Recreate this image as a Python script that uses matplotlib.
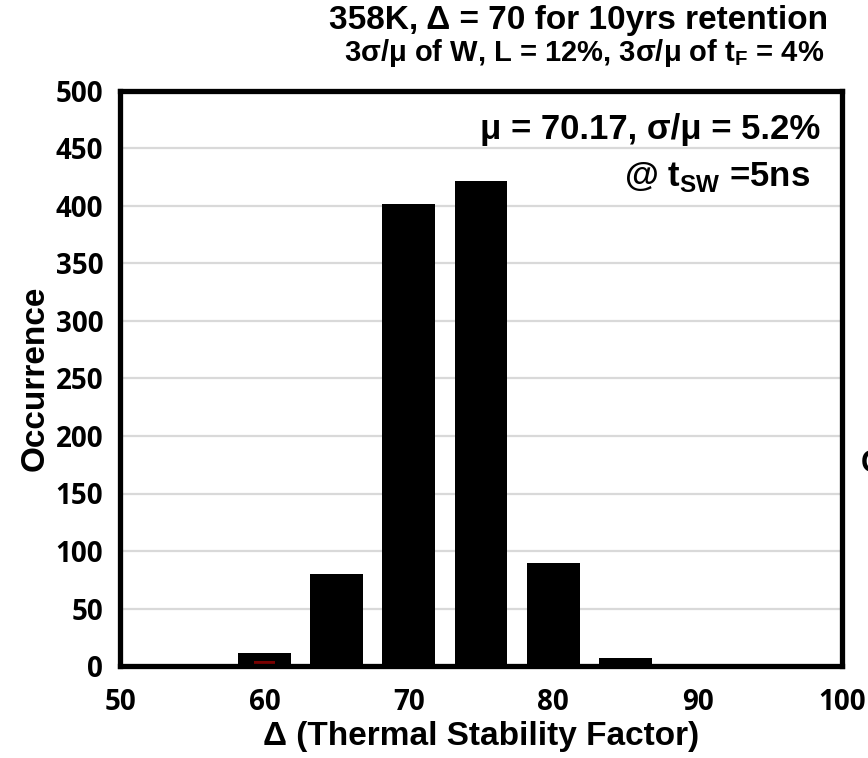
"""
Histograma del factor de estabilidad térmica (Delta) a 358K.
"""
import matplotlib
matplotlib.use("Agg")
import matplotlib.pyplot as plt

# datos
delta_bins = [60, 65, 70, 75, 80, 85]
counts = [11, 80, 402, 422, 90, 7]
red_bins = [60]
red_counts = [4]
x_ticks = [50, 60, 70, 80, 90, 100]
y_ticks = list(range(0, 501, 50))

title_1 = "358K, Δ = 70 for 10yrs retention"
title_2 = r"3σ/μ of W, L = 12%, 3σ/μ of t$_\mathbf{F}$ = 4%"
stats_txt = "μ = 70.17, σ/μ = 5.2%"
tsw_txt = r"@ t$_\mathbf{SW}$ =5ns"

plt.rcParams["mathtext.fontset"] = "custom"
plt.rcParams["mathtext.rm"] = "Liberation Sans"
plt.rcParams["mathtext.bf"] = "Liberation Sans:bold"

W, H = 868, 758
fig = plt.figure(figsize=(W / 100, H / 100), dpi=100)
ax = fig.add_axes([120 / W, 1 - 666 / H, (842 - 120) / W, (666 - 91) / H])

ax.bar(delta_bins, counts, width=3.67, color="black", zorder=2)
ax.bar(red_bins, red_counts, width=1.5, color="#7a0000", zorder=3)

ax.set_xlim(50, 100)
ax.set_ylim(0, 500)
ax.set_xticks(x_ticks)
ax.set_yticks(y_ticks)
ax.yaxis.grid(True, color="#d9d9d9", lw=1.6)
ax.set_axisbelow(True)
for s in ax.spines.values():
    s.set_linewidth(3.8)
    s.set_zorder(4)

tick_font = dict(family="Open Sans", weight="bold", size=20)
ax.tick_params(length=0)
ax.tick_params(axis="x", pad=16)
ax.tick_params(axis="y", pad=12)
for lab in ax.get_xticklabels() + ax.get_yticklabels():
    lab.set_fontproperties(matplotlib.font_manager.FontProperties(**tick_font))

lab_font = dict(family="Liberation Sans", weight="bold")
ax.set_xlabel("Δ (Thermal Stability Factor)", fontsize=24, labelpad=3, **lab_font)
ax.set_ylabel("Occurrence", fontsize=24, labelpad=4, **lab_font)

fig.text(579 / W, 1 - 20 / H, title_1, ha="center", va="center", fontsize=24, **lab_font)
fig.text(584 / W, 1 - 53 / H, title_2, ha="center", va="center", fontsize=21, **lab_font)
fig.text(820 / W, 1 - 129 / H, stats_txt, ha="right", va="center", fontsize=25, **lab_font)
fig.text(810 / W, 1 - 177 / H, tsw_txt, ha="right", va="center", fontsize=25, **lab_font)
# etiqueta del eje secundario, cortada por el borde de la figura
fig.text(861 / W, 1 - 464 / H, "C", ha="left", va="center", fontsize=22, **lab_font)

fig.savefig("out.png", dpi=100)
plt.close(fig)
